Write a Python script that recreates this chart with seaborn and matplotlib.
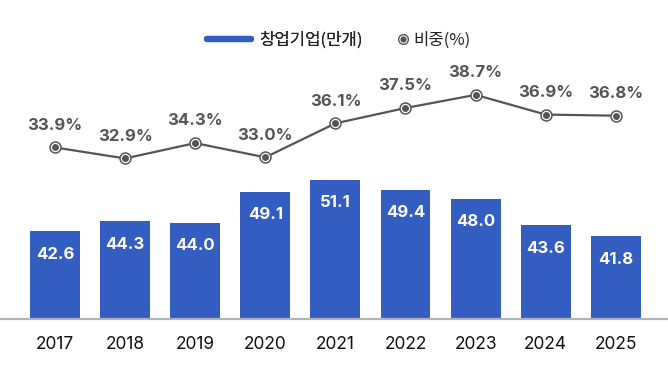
import numpy as np
import pandas as pd
import matplotlib
matplotlib.use("Agg")
import matplotlib.pyplot as plt
from matplotlib.lines import Line2D
from matplotlib.legend_handler import HandlerTuple
import seaborn as sns

years = ["2017", "2018", "2019", "2020", "2021", "2022", "2023", "2024", "2025"]
startups = [42.6, 44.3, 44.0, 49.1, 51.1, 49.4, 48.0, 43.6, 41.8]
share = [33.9, 32.9, 34.3, 33.0, 36.1, 37.5, 38.7, 36.9, 36.8]
legend_labels = ["창업기업(만개)", "비중(%)"]

BAR = "#335DC0"
LINE = "#555555"

sns.set_theme(style="white")
plt.rcParams["font.family"] = ["Inter", "Noto Sans CJK KR", "DejaVu Sans"]

W, H = 668, 380
fig = plt.figure(figsize=(W / 100, H / 100), dpi=100)
base_px, top_px = 319, 60
ax = fig.add_axes([0, 1 - base_px / H, 1, (base_px - top_px) / H])

df = pd.DataFrame({"year": years, "startups": startups, "share": share})
sns.barplot(data=df, x="year", y="startups", ax=ax, color=BAR, saturation=1,
            width=0.713, edgecolor="none")
ax.set_ylim(28.26, 70.7)

for i, v in enumerate(startups):
    ax.annotate(f"{v:.1f}", (i, v), xytext=(0, -16.5), textcoords="offset points",
                ha="center", va="center", color="white", fontsize=12,
                fontweight="bold")

ax2 = ax.twinx()
xpos = np.arange(len(years))
sns.lineplot(x=xpos, y=share, ax=ax2, color=LINE, linewidth=1.6)
ax2.plot(xpos, share, "o", ms=9, mfc=LINE, mec=LINE, mew=0, zorder=5)
ax2.plot(xpos, share, "o", ms=6.8, mfc="white", mec="white", mew=0, zorder=6)
ax2.plot(xpos, share, "o", ms=5, mfc=LINE, mec=LINE, mew=0, zorder=7)
ax2.set_ylim(18.25, 41.88)
for i, v in enumerate(share):
    ax2.annotate(f"{v:.1f}%", (i, v), xytext=(0, 16), textcoords="offset points",
                 ha="center", va="center", color=LINE, fontsize=12,
                 fontweight="bold")

for a in (ax, ax2):
    for s in ("top", "left", "right", "bottom"):
        a.spines[s].set_visible(False)
    a.set_yticks([])
    a.set_ylabel("")
    a.set_xlabel("")
    a.grid(False)
    a.patch.set_alpha(0)
ax.spines["bottom"].set_visible(True)
ax.spines["bottom"].set_color("#b3b3b3")
ax.spines["bottom"].set_linewidth(1.6)
ax.set_xticks(xpos)
ax.set_xticklabels(years)
ax.set_xlim(-0.785, 8.745)
ax.tick_params(axis="x", length=0, pad=12.5, labelsize=12.5, labelcolor="#111111",
               bottom=False, labelbottom=True)
ax2.tick_params(axis="x", bottom=False, top=False, labelbottom=False, labeltop=False)

legend_font = {"family": ["Noto Sans CJK KR", "DejaVu Sans"], "size": 12,
               "weight": "medium"}
h1 = Line2D([], [], color=BAR, lw=4.5)
m1 = Line2D([], [], ls="none", marker="o", ms=8, mfc=LINE, mec=LINE, mew=0)
m2 = Line2D([], [], ls="none", marker="o", ms=6, mfc="white", mec="white", mew=0)
m3 = Line2D([], [], ls="none", marker="o", ms=4.5, mfc=LINE, mec=LINE, mew=0)
leg1 = fig.legend([h1], legend_labels[:1], loc="center left",
                  bbox_to_anchor=(207 / W, 1 - 40 / H), frameon=False,
                  borderpad=0, borderaxespad=0, prop=legend_font,
                  handlelength=2.65, handletextpad=0.45, labelcolor="#222222")
leg2 = fig.legend([(m1, m2, m3)], legend_labels[1:], loc="center left",
                  bbox_to_anchor=(397 / W, 1 - 40 / H), frameon=False,
                  borderpad=0, borderaxespad=0, prop=legend_font,
                  handler_map={tuple: HandlerTuple(ndivide=1, pad=0)},
                  handlelength=0.75, handletextpad=0.25, labelcolor="#222222")
fig.add_artist(leg1)

fig.savefig("out.png", dpi=100)
